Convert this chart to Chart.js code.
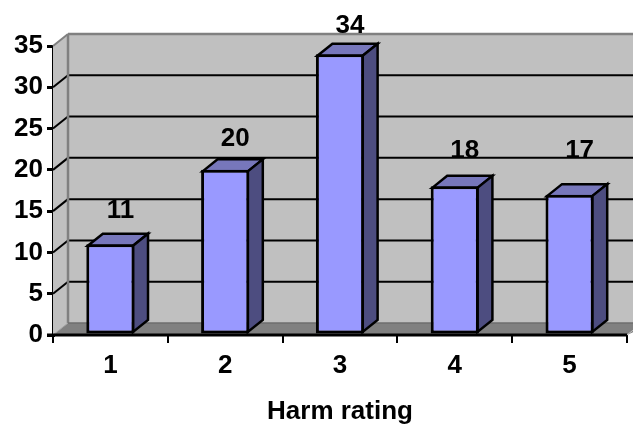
<!DOCTYPE html>
<html>
<head>
<meta charset="utf-8">
<style>html,body{margin:0;padding:0;background:#fff}canvas{display:block}</style>
<script src="https://cdn.jsdelivr.net/npm/chart.js@4/dist/chart.umd.min.js"></script>
</head>
<body>
<canvas id="c" width="633" height="424"></canvas>
<script>
const categories = ['1', '2', '3', '4', '5'];
const harmCounts = [11, 20, 34, 18, 17];
const axisTicks = [0, 5, 10, 15, 20, 25, 30, 35];
const labelLift = [33, 31, 28, 36, 44];

const DX = 15, DY = -12;
const FONT = '"Liberation Sans", Arial, sans-serif';

function poly(ctx, pts, fill, stroke, lw) {
  ctx.beginPath();
  pts.forEach((p, i) => i ? ctx.lineTo(p[0], p[1]) : ctx.moveTo(p[0], p[1]));
  ctx.closePath();
  if (fill) { ctx.fillStyle = fill; ctx.fill(); }
  if (stroke) { ctx.strokeStyle = stroke; ctx.lineWidth = lw; ctx.lineJoin = 'miter'; ctx.stroke(); }
}
function seg(ctx, x1, y1, x2, y2, color, lw) {
  ctx.beginPath(); ctx.moveTo(x1, y1); ctx.lineTo(x2, y2);
  ctx.strokeStyle = color; ctx.lineWidth = lw; ctx.stroke();
}

const box3d = {
  id: 'box3d',
  beforeDatasetsDraw(chart) {
    const { ctx, scales: { x, y } } = chart;
    const L = x.left, R = x.right, T = y.getPixelForValue(35), B = y.getPixelForValue(0);
    const far = chart.width + 20;
    ctx.save();
    poly(ctx, [[L + DX, T + DY], [far, T + DY], [far, B + DY], [L + DX, B + DY]], '#C0C0C0');
    poly(ctx, [[L, T], [L + DX, T + DY], [L + DX, B + DY], [L, B]], '#C0C0C0');
    poly(ctx, [[L, B], [L + DX, B + DY], [far, B + DY], [R, B]], '#808080');
    axisTicks.forEach(v => {
      if (v === 0 || v === 35) return;
      const p = y.getPixelForValue(v);
      seg(ctx, L, p, L + DX, p + DY, '#000', 2);
      seg(ctx, L + DX, p + DY, far, p + DY, '#000', 2);
    });
    seg(ctx, L, T, L + DX, T + DY, '#808080', 2);
    seg(ctx, L + DX, T + DY, far, T + DY, '#808080', 2.5);
    seg(ctx, L + DX, T + DY, L + DX, B + DY, '#808080', 2.5);
    seg(ctx, L, B, L + DX, B + DY, '#A0A0A0', 1);
    seg(ctx, L + DX, B + DY, far, B + DY, '#6E6E6E', 1.5);
    seg(ctx, R, B, R + DX, B + DY, '#C0C0C0', 1);
    chart.getDatasetMeta(0).data.forEach(el => {
      const a = el.x - el.width / 2 + 1.5, b = el.x + el.width / 2 - 1.5, t = el.y + 1.5, base = el.base - 1.5;
      poly(ctx, [[a, t], [a + DX, t + DY], [b + DX, t + DY], [b, t]], '#7777BB', '#000', 2.5);
      poly(ctx, [[b, t], [b + DX, t + DY], [b + DX, base + DY], [b, base]], '#4D4D80', '#000', 2.5);
    });
    ctx.restore();
  },
  afterDatasetsDraw(chart) {
    const { ctx, scales: { x, y } } = chart;
    ctx.save();
    const B = y.getPixelForValue(0);
    seg(ctx, x.left - 6, B, x.right, B, '#000', 3);
    ctx.font = 'bold 26px ' + FONT;
    ctx.fillStyle = '#000';
    ctx.textAlign = 'center';
    ctx.textBaseline = 'middle';
    chart.getDatasetMeta(0).data.forEach((el, i) => {
      ctx.fillText(String(harmCounts[i]), el.x + 10, el.y - labelLift[i]);
    });
    ctx.restore();
  }
};

new Chart(document.getElementById('c'), {
  type: 'bar',
  data: {
    labels: categories,
    datasets: [{
      data: harmCounts,
      backgroundColor: '#9999FF',
      borderColor: '#000',
      borderWidth: 3,
      borderSkipped: false,
      barPercentage: 0.42,
      categoryPercentage: 1
    }]
  },
  options: {
    responsive: false,
    animation: false,
    layout: { padding: { top: 46, right: 6, left: 0, bottom: 0 } },
    plugins: { legend: { display: false }, tooltip: { enabled: false } },
    scales: {
      x: {
        afterFit(s) { s.height = 89; },
        grid: { drawOnChartArea: false, color: '#000', lineWidth: 2, tickLength: 8 },
        border: { display: false },
        ticks: { color: '#000', font: { family: FONT, weight: 'bold', size: 26 }, padding: 7, maxRotation: 0 },
        title: { display: true, text: 'Harm rating', color: '#000', font: { family: FONT, weight: 'bold', size: 26 }, padding: { top: 0, bottom: -3 } }
      },
      y: {
        min: 0, max: 35,
        afterFit(s) { s.width = 53; },
        afterBuildTicks(s) { s.ticks = axisTicks.map(v => ({ value: v })); },
        grid: { drawOnChartArea: false, color: '#000', lineWidth: 3, tickLength: 6 },
        border: { color: '#000', width: 3 },
        ticks: { color: '#000', font: { family: FONT, weight: 'bold', size: 26 }, padding: 4 }
      }
    }
  },
  plugins: [box3d]
});
</script>
</body>
</html>
